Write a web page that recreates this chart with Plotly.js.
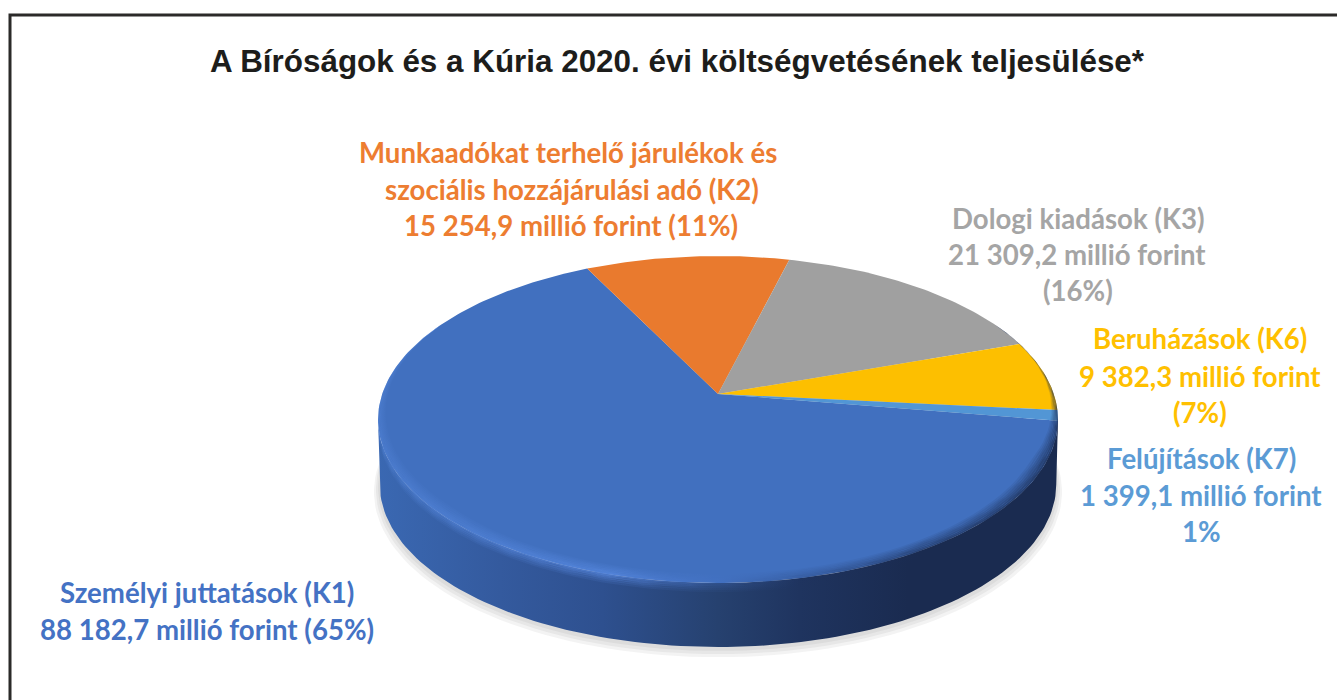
<!DOCTYPE html>
<html>
<head>
<meta charset="utf-8">
<script src="https://cdn.plot.ly/plotly-3.0.1.min.js"></script>
<style>html,body{margin:0;padding:0;background:#fff;overflow:hidden}#chart{width:1337px;height:700px}</style>
</head>
<body>
<div id="chart"></div>
<script>
// ---- data ----
const categories = ["Személyi juttatások (K1)", "Munkaadókat terhelő járulékok és szociális hozzájárulási adó (K2)", "Dologi kiadások (K3)", "Beruházások (K6)", "Felújítások (K7)"];
const valuesMillionFt = [88182.7, 15254.9, 21309.2, 9382.3, 1399.1];
const titleText = "A Bíróságok és a Kúria 2020. évi költségvetésének teljesülése*";
const labelLines = [
  ["Személyi juttatások (K1)", "88 182,7 millió forint (65%)"],
  ["Munkaadókat terhelő járulékok és", "szociális hozzájárulási adó (K2)", "15 254,9 millió forint (11%)"],
  ["Dologi kiadások (K3)", "21 309,2 millió forint", "(16%)"],
  ["Beruházások (K6)", "9 382,3 millió forint", "(7%)"],
  ["Felújítások (K7)", "1 399,1 millió forint", "1%"]
];

// ---- styling ----
const sliceColors = ["#4170bf", "#e97a2e", "#a0a0a0", "#fdbf00", "#5296d5"];
const textColors = ["#4472c4", "#ed7d31", "#a5a5a5", "#ffc000", "#5b9bd5"];
const labelX = [[207, 207], [568, 572, 571], [1078, 1077, 1078], [1200, 1200, 1200], [1201, 1201, 1201]];
const labelY = [[592, 629], [152, 189, 225], [218, 254, 290], [338, 376, 412], [458, 495, 531]];

// ---- projected disc geometry (plot axes are in page pixels) ----
const apexX = 718, apexY = 394, k = 0.156, rx0 = 335.8, ry0 = 159.5, depth = 65;
const firstSliceStartDeg = 99.4;
function project(deg, r, dy, scale) {
  const t = deg * Math.PI / 180, u = r * Math.sin(t), v = -r * Math.cos(t), w = 1 - k * v, s = scale || 1;
  return [apexX + s * rx0 * u / w, apexY + s * ry0 * v / w + (dy || 0)];
}
function arc(a, b, r, dy, scale, n) {
  const out = [];
  for (let i = 0; i <= n; i++) out.push(project(a + (b - a) * i / n, typeof r === "function" ? r(a + (b - a) * i / n) : r, dy, scale));
  return out;
}
function closedTrace(pts, extra) {
  return Object.assign({
    type: "scatter", mode: "lines", fill: "toself",
    x: pts.map(p => p[0]), y: pts.map(p => p[1]),
    line: {width: 0}, hoverinfo: "skip", showlegend: false
  }, extra);
}
const total = valuesMillionFt.reduce((a, b) => a + b, 0);
const traces = [];

// soft shadow under the disc
[[7, 1.012], [5, 1.006], [3, 1.0]].forEach(s => {
  traces.push(closedTrace(arc(0, 360, 1, depth + s[0], s[1], 180), {fillcolor: "rgba(90,90,90,0.07)"}));
});

// side wall
const tR = Math.acos(-k) * 180 / Math.PI, tL = 360 - tR;
const wallPts = arc(tR, tL, 1, 0, 1, 120).concat(arc(tL, tR, 1, depth, 0.995, 120));
traces.push(closedTrace(wallPts, {
  fillgradient: {type: "horizontal", start: 378, stop: 1058, colorscale: [
    [0, "#3a68b2"], [0.18, "#345a9e"], [0.33, "#2e508f"], [0.5, "#26416f"], [0.62, "#1f345f"], [0.78, "#1a2b50"], [1, "#1a2b50"]
  ]}
}));

// top surface: one wedge per value
let angle = firstSliceStartDeg;
valuesMillionFt.forEach((val, i) => {
  const sweep = val / total * 360;
  const pts = [[apexX, apexY]].concat(arc(angle, angle + sweep, 1, 0, 1, Math.max(6, Math.ceil(sweep)))).concat([[apexX, apexY]]);
  traces.push(closedTrace(pts, {
    fillcolor: sliceColors[i], name: categories[i], hoverinfo: "text",
    text: categories[i] + ": " + val + " millió forint", hoveron: "fills"
  }));
  angle += sweep;
});

// graded bevel along the rim: strips get stronger toward the edge
function rgba(c, a) { return "rgba(" + c[0] + "," + c[1] + "," + c[2] + "," + a.toFixed(3) + ")"; }
const rimStops = [[0, [85, 135, 220], 0.55], [0.35, [92, 142, 232], 0.75], [0.5, [70, 115, 200], 0.35], [0.62, [30, 50, 95], 0.35], [0.8, [26, 43, 80], 0.8], [1, [26, 43, 80], 0.9]];
const rimScale = m => rimStops.map(s => [s[0], rgba(s[1], s[2] * m)]);
const taper = d => {
  const a = Math.max(0, (d - 62) / 52), b = Math.max(0, (298 - d) / 70);
  return Math.min(1, a * a, b);
};
const steps = 7, bevelWidth = 0.042;
for (let i = 0; i < steps; i++) {
  const r1 = bevelWidth * (1 - i / steps), r2 = bevelWidth * (1 - (i + 1) / steps);
  const a = arc(62, 298, d => 1 - r1 * taper(d), 0, 1, 120);
  const b = arc(298, 62, d => 1 - r2 * taper(d), 0, 1, 120);
  traces.push(closedTrace(a.concat(b), {
    fillgradient: {type: "horizontal", start: 378, stop: 1058, colorscale: rimScale((i + 1) / steps * 0.8)}
  }));
}
// highlight fading downward on the wall just under the rim
const lipSteps = 5, lipHeight = 9;
for (let i = 0; i < lipSteps; i++) {
  const a = arc(tR, tL, 1, lipHeight * i / lipSteps, 1, 120), b = arc(tL, tR, 1, lipHeight * (i + 1) / lipSteps, 1, 120);
  traces.push(closedTrace(a.concat(b), {
    fillgradient: {type: "horizontal", start: 378, stop: 1058, colorscale: rimScale(0.85 * (1 - i / lipSteps))}
  }));
}

// labels, one annotation per text line
const annotations = [];
labelLines.forEach((lines, i) => lines.forEach((txt, j) => {
  annotations.push({
    text: txt, x: labelX[i][j], y: labelY[i][j], xref: "x", yref: "y", showarrow: false,
    xanchor: "center", yanchor: "middle",
    font: {family: "Lato, 'Noto Sans', sans-serif", size: 27.6, color: textColors[i], weight: 700}
  });
}));

const layout = {
  width: 1337, height: 700,
  margin: {l: 0, r: 0, t: 0, b: 0},
  paper_bgcolor: "#ffffff", plot_bgcolor: "#ffffff",
  showlegend: false,
  hovermode: "closest",
  title: {
    text: "<b>" + titleText + "</b>",
    x: 677 / 1337, xanchor: "center", y: 1 - 61 / 700, yanchor: "middle",
    font: {family: "'Liberation Sans', Arial, sans-serif", size: 31.4, color: "#1d1d1b"}
  },
  xaxis: {range: [0, 1337], visible: false, fixedrange: true},
  yaxis: {range: [700, 0], visible: false, fixedrange: true},
  shapes: [{
    type: "path", path: "M 10 700 L 10 15 L 1337 15", xref: "x", yref: "y",
    line: {color: "#2b2a29", width: 3}
  }],
  annotations: annotations
};
Plotly.newPlot("chart", traces, layout, {displayModeBar: false, responsive: false});
</script>
</body>
</html>
